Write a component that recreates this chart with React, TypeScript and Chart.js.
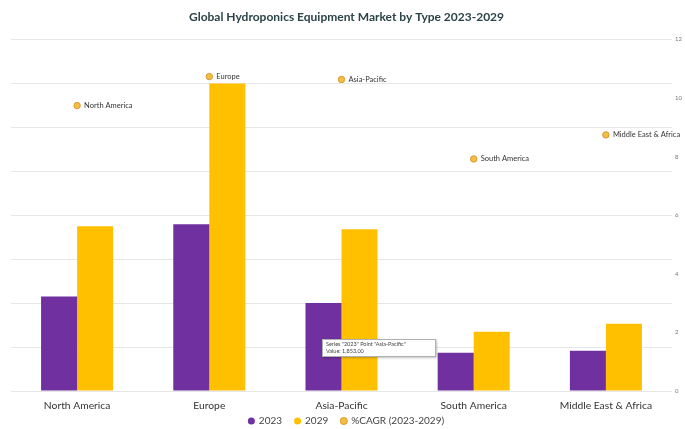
import React, { useEffect, useRef } from "react";
import { Chart, registerables } from "chart.js";

Chart.register(...registerables);

const categories = ["North America", "Europe", "Asia-Pacific", "South America", "Middle East & Africa"];
const values2023 = [1988, 3510, 1853, 803, 846];
const values2029 = [3467, 6470, 3404, 1247, 1416];
const cagr = [9.74, 10.73, 10.63, 7.92, 8.74];
const seriesNames = ["2023", "2029", "%CAGR (2023-2029)"];
const rightTicks = [0, 2, 4, 6, 8, 10, 12];
const titleText = "Global Hydroponics Equipment Market by Type 2023-2029";
const tooltipLines = ['Series "2023" Point "Asia-Pacific"', "Value: 1,853.00"];

const pointLabels = {
  id: "pointLabels",
  afterDatasetsDraw(chart: any) {
    const meta = chart.getDatasetMeta(2);
    const ctx = chart.ctx;
    ctx.save();
    ctx.font = "7.5px Lato";
    ctx.fillStyle = "#333";
    ctx.textBaseline = "middle";
    meta.data.forEach((el: any, i: number) => {
      ctx.fillText(categories[i], el.x + 7, el.y);
    });
    ctx.restore();
  },
};

export default function App() {
  const ref = useRef<HTMLCanvasElement>(null);
  useEffect(() => {
    document.body.style.margin = "0";
    const defaultGen = (Chart.defaults.plugins.legend.labels as any).generateLabels;
    const chart = new Chart(ref.current!, {
      type: "bar",
      data: {
        labels: categories,
        datasets: [
          { label: seriesNames[0], data: values2023, backgroundColor: "#7030A0", yAxisID: "y", order: 2, barPercentage: 1, categoryPercentage: 0.545 },
          { label: seriesNames[1], data: values2029, backgroundColor: "#FFC000", yAxisID: "y", order: 2, barPercentage: 1, categoryPercentage: 0.545 },
          {
            type: "line",
            label: seriesNames[2],
            data: cagr,
            yAxisID: "y1",
            showLine: false,
            pointRadius: 3.2,
            pointBackgroundColor: "#F3BE45",
            pointBorderColor: "#D8982C",
            pointBorderWidth: 1,
            backgroundColor: "#E8B860",
            borderColor: "#D8982C",
            order: 1,
          } as any,
        ],
      },
      options: {
        animation: false,
        responsive: false,
        maintainAspectRatio: false,
        layout: { padding: { left: 11, right: 3, top: 0, bottom: -7 } },
        plugins: {
          tooltip: { enabled: false },
          title: {
            display: true,
            text: titleText,
            color: "#2B4348",
            font: { family: "Lato", size: 12, weight: "bold" },
            padding: { top: 10, bottom: 15 },
          },
          legend: {
            position: "bottom",
            labels: {
              usePointStyle: true,
              pointStyle: "circle",
              boxWidth: 5,
              boxHeight: 5,
              padding: 3,
              color: "#444",
              font: { family: "Lato", size: 10 },
              generateLabels: (c: any) =>
                defaultGen(c)
                  .sort((a: any, b: any) => a.datasetIndex - b.datasetIndex)
                  .map((l: any, i: number, arr: any[]) => ({
                    ...l,
                    text: i < arr.length - 1 ? l.text + "\u2002\u2002" : l.text,
                  })),
            },
          },
        },
        scales: {
          x: {
            grid: { display: false, drawTicks: false },
            border: { display: false },
            ticks: { color: "#333", font: { family: "Lato", size: 10.3 }, padding: 8 },
            afterFit: (axis: any) => {
              axis.height = 22;
            },
          },
          y: {
            position: "left",
            min: 0,
            max: 7400,
            ticks: { display: false, stepSize: 925 },
            grid: { color: "#E6E6E6", drawTicks: false },
            border: { display: false },
          },
          y1: {
            position: "right",
            min: 0,
            max: 12,
            afterBuildTicks: (axis: any) => {
              axis.ticks = rightTicks.map((v) => ({ value: v }));
            },
            afterFit: (axis: any) => {
              axis.width = 10;
            },
            ticks: { color: "#777", font: { family: "Lato", size: 6 }, padding: 3 },
            grid: { display: false, drawTicks: false },
            border: { display: false },
          },
        },
      },
      plugins: [pointLabels],
    });
    return () => chart.destroy();
  }, []);
  return (
    <div style={{ position: "relative", width: 685, height: 429, background: "#fff" }}>
      <canvas ref={ref} width={685} height={429} style={{ width: 685, height: 429 }} />
      <div
        style={{
          position: "absolute",
          left: 322,
          top: 339,
          width: 106,
          padding: "1px 3px",
          background: "#fff",
          border: "1px solid #B0B0B0",
          boxShadow: "1px 1px 2px rgba(0,0,0,0.25)",
          font: "5.5px Lato",
          color: "#444",
          lineHeight: "7px",
          whiteSpace: "nowrap",
        }}
      >
        <div>{tooltipLines[0]}</div>
        <div>{tooltipLines[1]}</div>
      </div>
    </div>
  );
}
